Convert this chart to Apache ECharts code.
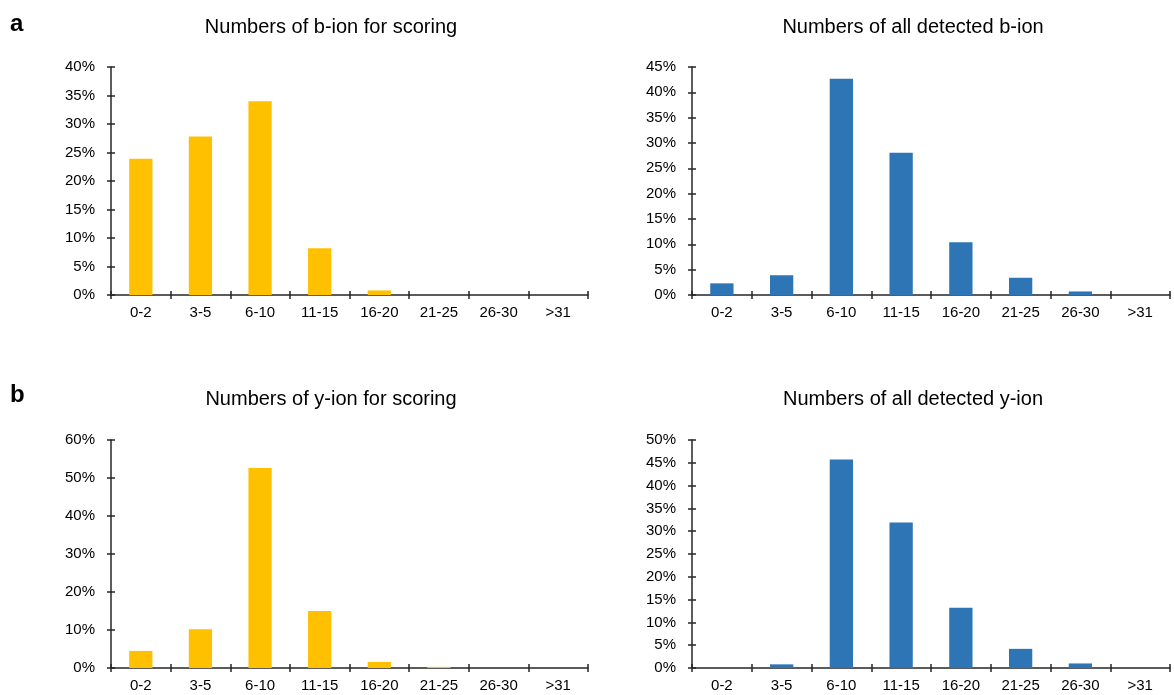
<!DOCTYPE html>
<html>
<head>
<meta charset="utf-8">
<script src="https://cdn.jsdelivr.net/npm/echarts@6/dist/echarts.min.js"></script>
<style>
  html, body { margin: 0; padding: 0; background: #fff; }
  #chart { width: 1174px; height: 695px; }
</style>
</head>
<body>
<div id="chart"></div>
<script>
// Ion-count bins shared by all four histograms
const categories = ['0-2', '3-5', '6-10', '11-15', '16-20', '21-25', '26-30', '>31'];

// Percent of spectra in each bin
const bIonScoring  = [23.9, 27.8, 34.0, 8.2, 0.8, 0, 0, 0];
const bIonDetected = [2.3, 3.9, 42.7, 28.1, 10.4, 3.4, 0.7, 0];
const yIonScoring  = [4.5, 10.2, 52.6, 15.0, 1.6, 0.3, 0, 0];
const yIonDetected = [0, 0.8, 45.7, 31.9, 13.2, 4.2, 1.0, 0];

// Panel titles and y-axis ranges (max, step) in percent
const panelTitles = [
  'Numbers of b-ion for scoring',
  'Numbers of all detected b-ion',
  'Numbers of y-ion for scoring',
  'Numbers of all detected y-ion'
];
const yMax  = [40, 45, 60, 50];
const yStep = [5, 5, 10, 5];
const panelLetters = ['a', 'b'];

const YELLOW = '#FFC000';
const BLUE = '#2E75B6';
const AXIS = '#262626';
const FONT = '"Liberation Sans", Arial, sans-serif';

const panels = [
  { data: bIonScoring,  color: YELLOW, grid: { left: 111, width: 477, top: 67,  height: 228 } },
  { data: bIonDetected, color: BLUE,   grid: { left: 692, width: 478, top: 67,  height: 228 } },
  { data: yIonScoring,  color: YELLOW, grid: { left: 111, width: 477, top: 440, height: 228 } },
  { data: yIonDetected, color: BLUE,   grid: { left: 692, width: 478, top: 440, height: 228 } }
];

const grid = [], xAxis = [], yAxis = [], series = [];

panels.forEach((p, i) => {
  grid.push(p.grid);

  // main category axis: line, outer ticks, labels
  xAxis.push({
    type: 'category', gridIndex: i, data: categories, position: 'bottom',
    axisLine: { lineStyle: { color: AXIS, width: 1.5 } },
    axisTick: { show: true, length: 4, lineStyle: { color: AXIS, width: 1.5 } },
    axisLabel: { color: '#000', fontFamily: FONT, fontSize: 15, margin: 10, interval: 0 },
    splitLine: { show: false }
  });
  // companion axis drawing the inner half of each crossing tick
  xAxis.push({
    type: 'category', gridIndex: i, data: categories, position: 'bottom',
    axisLine: { show: false },
    axisTick: { show: true, inside: true, length: 4, lineStyle: { color: AXIS, width: 1.5 } },
    axisLabel: { show: false },
    splitLine: { show: false }
  });

  yAxis.push({
    type: 'value', gridIndex: i, min: 0, max: yMax[i], interval: yStep[i], position: 'left',
    axisLine: { show: true, lineStyle: { color: AXIS, width: 1.5 } },
    axisTick: { show: true, length: 4, lineStyle: { color: AXIS, width: 1.5 } },
    axisLabel: { color: '#000', fontFamily: FONT, fontSize: 15, margin: 16, formatter: '{value}%' },
    splitLine: { show: false }
  });
  yAxis.push({
    type: 'value', gridIndex: i, min: 0, max: yMax[i], interval: yStep[i], position: 'left',
    axisLine: { show: false },
    axisTick: { show: true, inside: true, length: 4, lineStyle: { color: AXIS, width: 1.5 } },
    axisLabel: { show: false },
    splitLine: { show: false }
  });

  series.push({
    type: 'bar', xAxisIndex: 2 * i, yAxisIndex: 2 * i,
    data: p.data, barCategoryGap: '61%',
    itemStyle: { color: p.color },
    silent: true
  });
});

// panel titles and letters
const titleX = [331, 913, 331, 913];
const titleY = [27, 27, 399, 399];
const graphic = panelTitles.map((t, i) => ({
  type: 'text', x: titleX[i], y: titleY[i],
  style: { text: t, font: '20px ' + FONT, fill: '#000', textAlign: 'center', textVerticalAlign: 'middle' }
}));
graphic.push({
  type: 'text', x: 10, y: 24,
  style: { text: panelLetters[0], font: 'bold 24px ' + FONT, fill: '#000', textAlign: 'left', textVerticalAlign: 'middle' }
});
graphic.push({
  type: 'text', x: 10, y: 395,
  style: { text: panelLetters[1], font: 'bold 24px ' + FONT, fill: '#000', textAlign: 'left', textVerticalAlign: 'middle' }
});

const chart = echarts.init(document.getElementById('chart'), null, { renderer: 'canvas' });
chart.setOption({
  animation: false,
  backgroundColor: '#fff',
  grid, xAxis, yAxis, series, graphic
});
</script>
</body>
</html>
